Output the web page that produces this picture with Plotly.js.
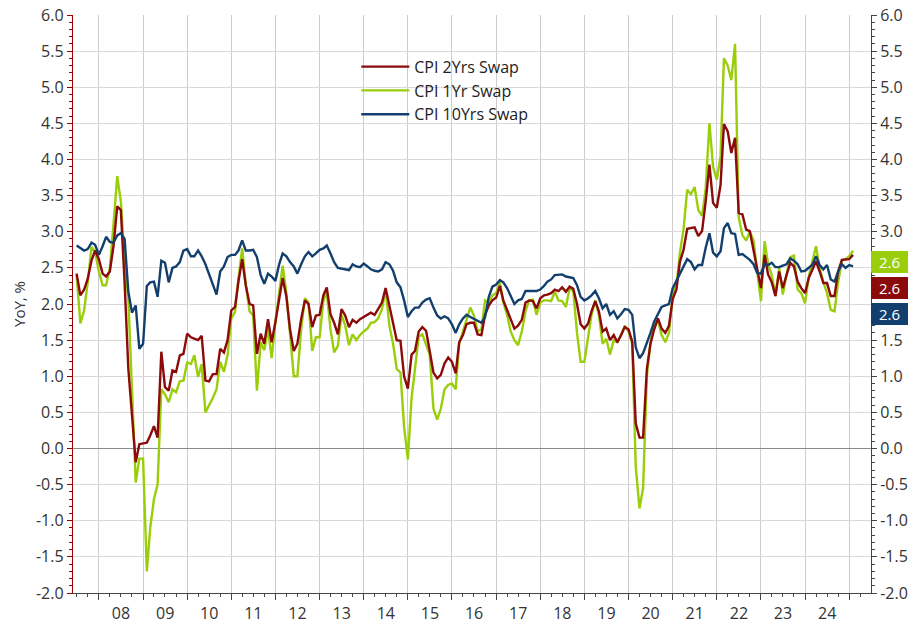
<!DOCTYPE html>
<html>
<head>
<meta charset="utf-8">
<script src="https://cdn.plot.ly/plotly-3.0.1.min.js"></script>
<style>html,body{margin:0;padding:0;background:#fff;}#chart{width:913px;height:623px;}</style>
</head>
<body>
<div id="chart"></div>
<script>
// Monthly observations starting July 2007
var startYear = 2007, startMonth = 7;

var cpi2y = [
2.42,2.12,2.20,2.35,2.60,2.74,2.62,2.42,2.38,2.45,
2.80,3.35,3.30,2.30,1.10,0.45,-0.19,0.06,0.07,0.08,
0.18,0.31,0.15,1.34,0.85,0.80,1.08,1.06,1.29,1.31,
1.59,1.54,1.52,1.50,1.56,0.94,0.93,1.03,1.03,1.38,
1.33,1.50,1.91,1.96,2.31,2.62,2.26,2.00,1.98,1.31,
1.59,1.45,1.79,1.47,1.75,2.05,2.36,2.10,
1.65,1.35,1.45,1.79,2.05,2.00,1.68,1.84,1.85,2.12,
2.23,1.86,1.74,1.58,1.93,1.84,1.68,1.78,1.74,1.79,
1.82,1.85,1.88,1.85,1.93,2.02,2.22,1.98,1.72,1.50,
1.49,1.00,0.83,1.30,1.35,1.62,1.68,1.63,1.35,1.05,
0.97,1.02,1.18,1.26,1.20,1.04,1.47,1.57,1.72,1.74,
1.74,1.58,1.57,1.85,1.98,2.05,2.09,2.25,
2.05,1.92,1.80,1.66,1.70,1.78,2.02,2.05,2.04,1.94,
2.08,2.12,2.13,2.15,2.20,2.18,2.23,2.17,2.24,2.21,
2.00,1.72,1.66,1.73,1.90,2.04,1.90,1.62,1.66,1.50,
1.57,1.47,1.57,1.68,1.65,1.48,0.35,0.15,0.15,1.10,
1.45,1.65,1.80,1.66,1.60,1.70,2.07,2.20,2.58,2.75,
3.04,3.05,3.06,2.94,3.01,3.42,3.93,3.40,3.33,3.65,
4.49,4.39,4.09,4.30,3.26,3.24,3.03,3.01,2.75,2.50,
2.22,2.68,2.41,2.30,2.11,2.45,2.22,2.40,2.57,2.52,
2.31,2.22,2.15,2.36,2.48,2.59,2.45,2.29,2.29,2.11,
2.11,2.45,2.61,2.61,2.62,2.68
];

var cpi1y = [
2.40,1.73,1.91,2.30,2.79,2.72,2.45,2.26,2.26,2.50,
3.10,3.77,3.42,2.60,2.07,0.69,-0.47,-0.14,-0.14,-1.70,
-1.10,-0.70,-0.50,0.82,0.75,0.64,0.82,0.78,0.93,0.94,
1.19,1.17,1.29,0.99,1.17,0.50,0.59,0.70,0.82,1.20,
1.06,1.29,1.80,1.89,2.35,2.77,2.26,1.90,1.84,0.80,
1.47,1.36,1.66,1.25,1.75,2.20,2.53,2.15,
1.60,1.00,1.00,1.65,2.08,2.02,1.35,1.54,1.54,2.05,
2.16,1.65,1.33,1.42,1.85,1.70,1.43,1.58,1.50,1.57,
1.62,1.66,1.74,1.75,1.80,1.93,2.20,1.70,1.45,1.10,
1.05,0.30,-0.15,0.70,1.10,1.55,1.58,1.45,1.30,0.55,
0.40,0.55,0.82,0.88,0.90,0.82,1.45,1.62,1.80,1.95,
1.84,1.62,1.65,2.05,2.02,2.12,2.15,2.30,
2.02,1.85,1.62,1.50,1.43,1.62,1.90,2.05,2.06,1.85,
2.02,2.05,2.05,2.04,2.17,2.05,2.04,1.96,2.22,2.18,
1.60,1.20,1.20,1.58,1.85,2.05,1.85,1.45,1.52,1.30,
1.50,1.47,1.57,1.70,1.62,1.45,-0.25,-0.83,-0.55,1.00,
1.47,1.70,1.77,1.57,1.47,1.60,2.12,2.26,2.70,3.04,
3.58,3.52,3.62,3.30,3.22,3.60,4.50,3.90,3.72,4.05,
5.40,5.30,5.10,5.60,3.20,2.95,2.88,3.00,2.88,2.45,
2.04,2.87,2.55,2.40,2.11,2.50,2.13,2.41,2.65,2.67,
2.20,2.15,2.01,2.38,2.60,2.80,2.50,2.30,2.15,1.92,
1.90,2.30,2.60,2.62,2.66,2.74
];

var cpi10y = [
2.81,2.78,2.74,2.76,2.85,2.82,2.68,2.80,2.93,2.86,
2.85,2.95,2.98,2.90,2.17,1.88,1.98,1.38,1.45,2.25,
2.30,2.31,2.10,2.60,2.57,2.30,2.50,2.52,2.58,2.74,
2.76,2.66,2.66,2.74,2.66,2.55,2.42,2.28,2.13,2.45,
2.52,2.65,2.68,2.68,2.74,2.88,2.74,2.74,2.75,2.65,
2.40,2.28,2.42,2.38,2.32,2.55,2.70,2.66,
2.58,2.52,2.42,2.55,2.66,2.72,2.66,2.70,2.75,2.77,
2.81,2.70,2.58,2.50,2.49,2.49,2.47,2.55,2.52,2.51,
2.56,2.52,2.48,2.46,2.45,2.48,2.58,2.55,2.46,2.30,
2.23,2.05,1.82,1.90,1.95,1.95,2.02,2.06,2.08,1.95,
1.84,1.80,1.83,1.80,1.72,1.60,1.72,1.80,1.85,1.82,
1.79,1.77,1.74,1.82,2.10,2.24,2.27,2.33,
2.30,2.22,2.12,2.00,2.05,2.07,2.18,2.18,2.18,2.18,
2.20,2.25,2.31,2.34,2.40,2.41,2.41,2.38,2.37,2.36,
2.26,2.10,2.05,2.08,2.12,2.18,2.08,1.94,2.00,1.85,
1.90,1.80,1.86,1.93,1.92,1.85,1.40,1.25,1.32,1.45,
1.60,1.76,1.87,1.96,1.98,2.00,2.22,2.32,2.42,2.52,
2.62,2.58,2.48,2.54,2.54,2.78,2.98,2.71,2.66,2.73,
3.05,3.12,2.98,2.97,2.68,2.69,2.65,2.61,2.55,2.43,
2.42,2.55,2.54,2.57,2.51,2.51,2.53,2.55,2.63,2.60,
2.55,2.45,2.46,2.50,2.54,2.66,2.54,2.48,2.54,2.34,
2.31,2.45,2.55,2.50,2.54,2.52
];

var seriesNames = ["CPI 2Yrs Swap", "CPI 1Yr Swap", "CPI 10Yrs Swap"];
var lastLabels = ["2.6", "2.6", "2.6"]; // green, red, blue end-value tags
var yTickVals = [-2,-1.5,-1,-0.5,0,0.5,1,1.5,2,2.5,3,3.5,4,4.5,5,5.5,6];
var yTickText = yTickVals.map(function (v) { return v.toFixed(1); });
// right-axis labels hidden behind the end-value tags
var rightHidden = [2, 2.5];
var yTickTextRight = yTickVals.map(function (v) {
  return rightHidden.indexOf(v) >= 0 ? "" : v.toFixed(1);
});

var dates = [];
for (var k = 0; k < cpi2y.length; k++) {
  var m0 = (startMonth - 1) + k;
  var yy = startYear + Math.floor(m0 / 12);
  var mm = (m0 % 12) + 1;
  dates.push(yy + "-" + (mm < 10 ? "0" + mm : mm) + "-01");
}

var RED = "#8b0a0a", GREEN = "#9acd0a", BLUE = "#123f6e";
var FONT = "Open Sans, sans-serif";

var traces = [
  {x: dates, y: cpi1y, name: seriesNames[1], type: "scatter", mode: "lines",
   line: {color: GREEN, width: 2.4}, legendrank: 2, hoverinfo: "skip"},
  {x: dates, y: cpi2y, name: seriesNames[0], type: "scatter", mode: "lines",
   line: {color: RED, width: 2.4}, legendrank: 1, hoverinfo: "skip"},
  {x: dates, y: cpi10y, name: seriesNames[2], type: "scatter", mode: "lines",
   line: {color: BLUE, width: 2.4}, legendrank: 3, yaxis: "y2", hoverinfo: "skip"}
];

var tagColors = [GREEN, RED, BLUE];
var tagPos = [2.58, 2.22, 1.86];
var annotations = [];
for (var j = 0; j < 3; j++) {
  annotations.push({
    xref: "paper", yref: "y", x: 1, y: tagPos[j], xanchor: "left", yanchor: "middle",
    text: lastLabels[j], showarrow: false, bgcolor: tagColors[j], borderwidth: 0,
    font: {family: FONT, size: 15, color: "#ffffff"}, width: 35, height: 20, borderpad: 1
  });
}

var layout = {
  width: 913, height: 623,
  margin: {l: 73, r: 42, t: 15, b: 30},
  paper_bgcolor: "#ffffff", plot_bgcolor: "#ffffff",
  font: {family: FONT, size: 16, color: "#333"},
  showlegend: true,
  legend: {x: 0.355, y: 0.94, xanchor: "left", yanchor: "top", bgcolor: "rgba(0,0,0,0)",
           font: {family: FONT, size: 16, color: "#222"}, tracegroupgap: 0, itemwidth: 48},
  xaxis: {
    type: "date", range: ["2007-06-01", "2025-06-30"],
    tick0: "2008-01-01", dtick: "M12", tickformat: "%y", ticklabelmode: "period",
    labelalias: {"07": ""},
    showgrid: true, gridcolor: "#cccccc", gridwidth: 1,
    ticks: "outside", ticklen: 6, tickcolor: "#444", showline: true, linecolor: "#444", linewidth: 1,
    minor: {dtick: "M3", ticks: "outside", ticklen: 3, tickcolor: "#444", showgrid: false},
    tickfont: {family: FONT, size: 16, color: "#333"}, zeroline: false
  },
  yaxis: {
    range: [-2, 6], tickmode: "array", tickvals: yTickVals, ticktext: yTickText,
    showgrid: true, gridcolor: "#d9d9d9", gridwidth: 1,
    zeroline: true, zerolinecolor: "#8a8a8a", zerolinewidth: 1.5,
    showline: true, linecolor: "#a00000", linewidth: 1.2,
    ticks: "outside", ticklen: 5, tickcolor: "#a00000",
    minor: {dtick: 0.1, ticks: "outside", ticklen: 3, tickcolor: "#a00000", showgrid: false},
    tickfont: {family: FONT, size: 16, color: "#333"},
    title: {text: "YoY, %", font: {family: FONT, size: 15, color: "#333"}, standoff: 6}
  },
  yaxis2: {
    overlaying: "y", side: "right", range: [-2, 6],
    tickmode: "array", tickvals: yTickVals, ticktext: yTickTextRight,
    showgrid: false, zeroline: false, showline: true, linecolor: "#444", linewidth: 1,
    ticks: "outside", ticklen: 5, tickcolor: "#444",
    minor: {dtick: 0.1, ticks: "outside", ticklen: 3, tickcolor: "#444", showgrid: false},
    tickfont: {family: FONT, size: 16, color: "#333"}
  },
  annotations: annotations
};

Plotly.newPlot("chart", traces, layout, {displayModeBar: false, staticPlot: true});
</script>
</body>
</html>
